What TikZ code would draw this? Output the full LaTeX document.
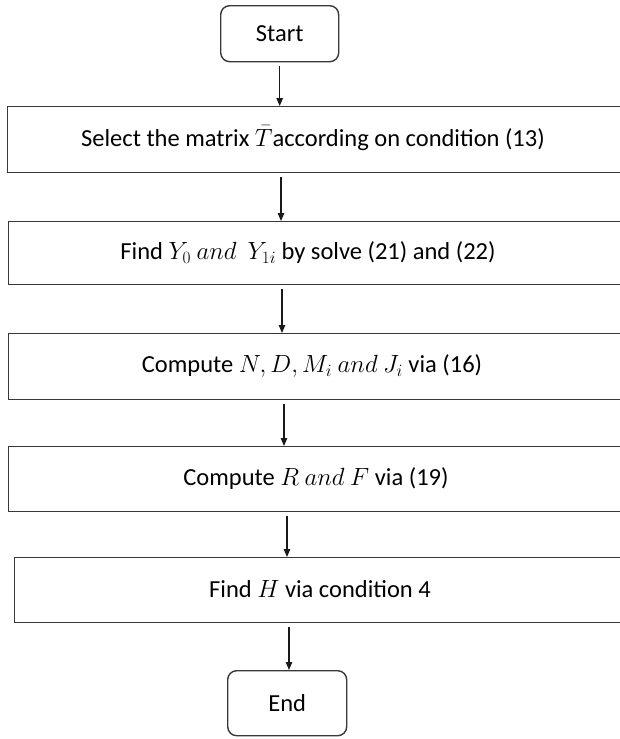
\documentclass[tikz,border=0pt]{standalone}
\usepackage{fontspec}
\setmainfont{Carlito}
\usetikzlibrary{arrows.meta}
\begin{document}
\begin{tikzpicture}[x=1pt,y=-1pt,
  boxline/.style={draw=black!78, line width=1.4pt},
  stepbox/.style={boxline, rectangle, anchor=north west, inner sep=0pt},
  termbox/.style={boxline, rounded corners=9pt, anchor=north west, inner sep=0pt},
  txt/.style={font=\fontsize{24.5}{28}\selectfont, inner sep=0pt},
  flow/.style={draw=black!90, line width=1.2pt, -{Triangle[length=8pt,width=6.5pt]}, shorten <=4pt}
]
\useasboundingbox (0,0) rectangle (620,739);
\clip (0,0) rectangle (620,739);

% terminals
\node[termbox, minimum width=118pt, minimum height=56pt] (start) at (220,5) {};
\node[txt] (tstart) at (start.center) {Start};
\node[termbox, minimum width=119pt, minimum height=65pt] (end) at (227,670) {};
\node[txt] (tend) at (end.center) {End};

% process steps (they run past the right edge)
\node[stepbox, minimum width=680pt, minimum height=66pt] (b1) at (7,106) {};
\node[stepbox, minimum width=680pt, minimum height=63pt] (b2) at (8,221) {};
\node[stepbox, minimum width=680pt, minimum height=66pt] (b3) at (8,333) {};
\node[stepbox, minimum width=680pt, minimum height=65pt] (b4) at (8,446) {};
\node[stepbox, minimum width=680pt, minimum height=65pt] (b5) at (14,557) {};

\node[txt] (t1) at (313,138) {Select the matrix $\bar{T}$according on condition (13)};
\node[txt] (t2) at (308,252.5) {Find $Y_0\ and\ \ Y_{1i}$ by solve (21) and (22)};
\node[txt] (t3) at (312,366) {Compute $N, D, M_i\ and\ J_i$ via (16)};
\node[txt] (t4) at (316,478.5) {Compute $R\ and\ F$ via (19)};
\node[txt] (t5) at (320,589.5) {Find $H$ via condition 4};

% connectors
\draw[flow] (start.south) -- (start.south |- b1.north);
\draw[flow] ([xshift=274pt]b1.south west) -- ([xshift=274pt]b1.south west |- b2.north);
\draw[flow] ([xshift=274pt]b2.south west) -- ([xshift=274pt]b2.south west |- b3.north);
\draw[flow] ([xshift=276pt]b3.south west) -- ([xshift=276pt]b3.south west |- b4.north);
\draw[flow] ([xshift=279pt]b4.south west) -- ([xshift=279pt]b4.south west |- b5.north);
\draw[flow] ([xshift=275pt]b5.south west) -- ([xshift=275pt]b5.south west |- end.north);
\end{tikzpicture}
\end{document}
